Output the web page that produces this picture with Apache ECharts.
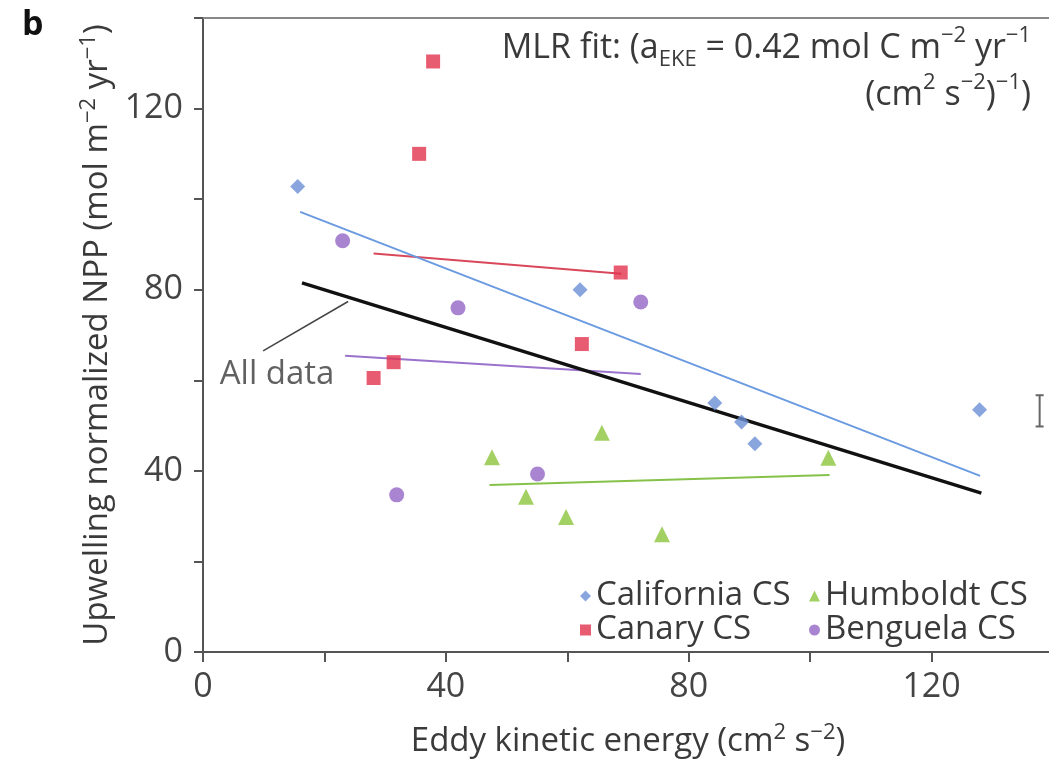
<!DOCTYPE html>
<html>
<head>
<meta charset="utf-8">
<title>NPP vs EKE</title>
<script src="https://cdn.jsdelivr.net/npm/echarts@6/dist/echarts.min.js"></script>
<style>
  html, body { margin: 0; padding: 0; background: #fff; }
  #chart { width: 1049px; height: 761px; }
</style>
</head>
<body>
<div id="chart"></div>
<script>
// points: [eddy kinetic energy, upwelling normalized NPP]
const california = [[15.6, 102.8], [62.1, 80], [84.3, 55], [88.7, 50.8], [90.9, 46], [127.9, 53.5]];
const canary = [[37.9, 130.4], [35.6, 110], [68.8, 83.8], [62.4, 68], [31.4, 64], [28.1, 60.5]];
const humboldt = [[47.6, 43], [53.2, 34.3], [59.8, 29.8], [65.7, 48.4], [75.6, 26], [103, 42.9]];
const benguela = [[23, 90.8], [42, 76], [72.1, 77.3], [55.1, 39.3], [31.9, 34.7]];

// fit line end points
const fitCalifornia = [[16, 97.2], [128, 38.9]];
const fitCanary = [[28.1, 88], [68.9, 83.5]];
const fitHumboldt = [[47.2, 36.9], [103.2, 39.1]];
const fitBenguela = [[23.4, 65.4], [72.1, 61.4]];
const fitAll = [[16.3, 81.5], [128.2, 35.1]];

const allDataLeader = [[9.9, 66.5], [23.9, 77.4]];
const allDataLabel = [[12.2, 61.2]];
// [x, low, high]
const errorBar = [[137.8, 49.8, 56.7]];

const xTicks = [0, 40, 80, 120];
const yTicks = [0, 40, 80, 120];

const FONT = 'Open Sans';
const AXIS = '#555';
const TEXT = '#3a3a3a';
const colors = {
  california: '#6b8fd6',
  canary: '#e2334f',
  humboldt: '#8cc43c',
  benguela: '#9466c6',
};

const sup = { fontSize: 22, fontFamily: FONT, color: TEXT, verticalAlign: 'top', lineHeight: 40 };
const base = { fontSize: 33, fontFamily: FONT, color: TEXT, lineHeight: 40 };

const chart = echarts.init(document.getElementById('chart'));

function fitLine(name, data, color, width) {
  return {
    name,
    type: 'line',
    data,
    symbol: 'none',
    silent: true,
    lineStyle: { color, width },
    z: 1,
  };
}

function dots(name, data, symbol, size, color) {
  return {
    name,
    type: 'scatter',
    data,
    symbol,
    symbolSize: size,
    itemStyle: { color },
    z: 3,
  };
}

const legendText = { fontSize: 33, color: TEXT, fontFamily: FONT, lineHeight: 34 };
const noteRich = {
  b: { fontSize: 34, fontFamily: FONT, fill: TEXT, lineHeight: 46 },
  s: { fontSize: 22, fontFamily: FONT, fill: TEXT, verticalAlign: 'top', lineHeight: 40 },
  sub: { fontSize: 22, fontFamily: FONT, fill: TEXT, verticalAlign: 'bottom', lineHeight: 38 },
};

chart.setOption({
  animation: false,
  textStyle: { fontFamily: FONT },
  grid: { left: 203, top: 18, right: -4, bottom: 109, outerBoundsMode: 'none' },
  xAxis: [{
    type: 'value',
    min: 0,
    max: 140,
    interval: 20,
    splitLine: { show: false },
    axisLine: { lineStyle: { color: AXIS, width: 2 } },
    axisTick: { length: 10, lineStyle: { color: AXIS, width: 2 } },
    axisLabel: {
      margin: 18,
      fontSize: 34,
      color: '#444',
      fontFamily: FONT,
      formatter: (v) => (xTicks.includes(v) ? String(v) : ''),
    },
    name: '{b|Eddy kinetic energy (cm}{s|2}{b| s}{s|−2}{b|)}',
    nameLocation: 'middle',
    nameGap: 70,
    nameTextStyle: { rich: { b: base, s: sup } },
  }, {
    type: 'value',
    position: 'top',
    min: 0,
    max: 140,
    axisLine: { show: true, onZero: false, lineStyle: { color: '#888', width: 2 } },
    axisTick: { show: false },
    axisLabel: { show: false },
    splitLine: { show: false },
  }],
  yAxis: {
    type: 'value',
    min: 0,
    max: 140,
    interval: 20,
    splitLine: { show: false },
    axisLine: { show: true, lineStyle: { color: AXIS, width: 2 } },
    axisTick: { show: true, length: 9, lineStyle: { color: AXIS, width: 2 } },
    axisLabel: {
      margin: 20,
      fontSize: 34,
      color: '#444',
      fontFamily: FONT,
      formatter: (v) => (yTicks.includes(v) ? String(v) : ''),
    },
    name: '{b|Upwelling normalized NPP (mol m}{s|−2}{b| yr}{s|−1}{b|)}',
    nameLocation: 'middle',
    nameRotate: 90,
    nameGap: 83,
    nameTextStyle: { rich: { b: base, s: sup } },
  },
  legend: [{
    orient: 'vertical',
    left: 575,
    top: 574,
    itemWidth: 11,
    itemHeight: 11,
    itemGap: 0,
    textStyle: legendText,
    data: [
      { name: 'California CS', icon: 'diamond' },
      { name: 'Canary CS', icon: 'rect' },
    ],
  }, {
    orient: 'vertical',
    left: 804,
    top: 574,
    itemWidth: 11,
    itemHeight: 11,
    itemGap: 0,
    textStyle: legendText,
    data: [
      { name: 'Humboldt CS', icon: 'triangle' },
      { name: 'Benguela CS', icon: 'circle' },
    ],
  }],
  graphic: [{
    type: 'text',
    left: 22,
    top: 8,
    style: { text: 'b', font: 'bold 34px "Open Sans"', fill: '#111' },
  }, {
    type: 'text',
    right: 18,
    top: 25,
    style: {
      text: '{b|MLR fit: (a}{sub|EKE}{b| = 0.42 mol C m}{s|−2}{b| yr}{s|−1}',
      rich: noteRich,
    },
  }, {
    type: 'text',
    right: 18,
    top: 72,
    style: {
      text: '{b|(cm}{s|2}{b| s}{s|−2}{b|)}{s|−1}{b|)}',
      rich: noteRich,
    },
  }],
  series: [
    fitLine('fit Canary', fitCanary, '#d9485a', 2),
    fitLine('fit Benguela', fitBenguela, '#9a72cc', 2),
    fitLine('fit Humboldt', fitHumboldt, '#86c24a', 2),
    fitLine('fit California', fitCalifornia, '#6a9ae0', 2),
    fitLine('fit all', fitAll, '#111', 3.5),
    {
      type: 'line',
      data: allDataLeader,
      symbol: 'none',
      silent: true,
      lineStyle: { color: '#444', width: 1.5 },
    },
    {
      type: 'scatter',
      data: allDataLabel,
      symbolSize: 1,
      itemStyle: { color: 'transparent' },
      silent: true,
      label: {
        show: true,
        position: 'inside',
        formatter: 'All data',
        fontSize: 33,
        color: TEXT,
        fontFamily: FONT,
      },
    },
    {
      type: 'custom',
      data: errorBar,
      silent: true,
      renderItem(params, api) {
        const top = api.coord([api.value(0), api.value(2)]);
        const bottom = api.coord([api.value(0), api.value(1)]);
        const cap = 4;
        const style = { stroke: '#666', lineWidth: 2 };
        return {
          type: 'group',
          children: [
            { type: 'line', shape: { x1: top[0], y1: top[1], x2: bottom[0], y2: bottom[1] }, style },
            { type: 'line', shape: { x1: top[0] - cap, y1: top[1], x2: top[0] + cap, y2: top[1] }, style },
            { type: 'line', shape: { x1: bottom[0] - cap, y1: bottom[1], x2: bottom[0] + cap, y2: bottom[1] }, style },
          ],
        };
      },
    },
    dots('California CS', california, 'diamond', 15, colors.california),
    dots('Canary CS', canary, 'rect', 14, colors.canary),
    dots('Humboldt CS', humboldt, 'triangle', 16, colors.humboldt),
    dots('Benguela CS', benguela, 'circle', 15, colors.benguela),
  ],
});
</script>
</body>
</html>
